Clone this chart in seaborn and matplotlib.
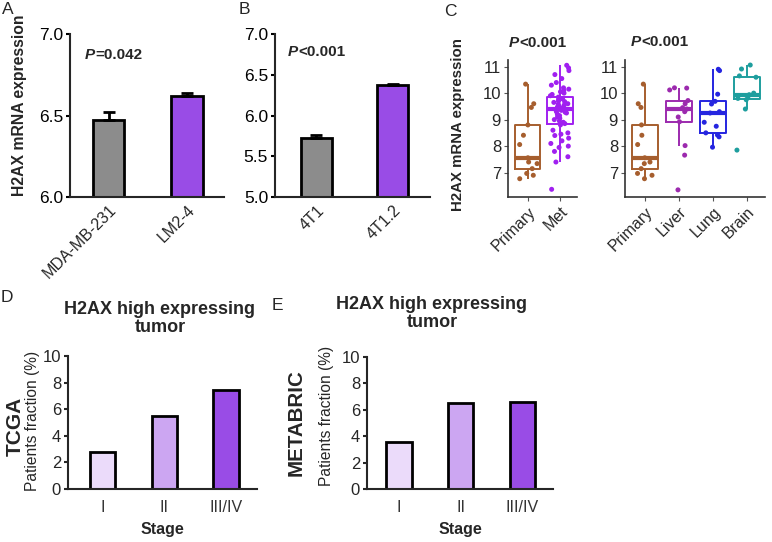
import numpy as np
import pandas as pd
import matplotlib
matplotlib.use('Agg')
import matplotlib.pyplot as plt
import seaborn as sns

# %%
# Values

# A: human cell lines
cells_a = ['MDA-MB-231', 'LM2-4']
expr_a = [6.47, 6.62]
err_a = [0.05, 0.015]

# B: mouse cell lines
cells_b = ['4T1', '4T1.2']
expr_b = [5.73, 6.37]
err_b = [0.03, 0.02]

# C: patient samples
primary_vals = [6.77, 6.9, 6.97, 7.15, 7.34, 7.4, 7.56, 8.06, 8.41, 8.8, 9.46, 9.6, 10.34]
met_vals = [6.37, 7.4, 7.6, 7.8, 7.95, 8.0, 8.1, 8.2, 8.3, 8.4, 8.45, 8.5, 8.6, 8.8,
            8.85, 8.9, 8.95, 9.0, 9.05, 9.1, 9.15, 9.2, 9.25, 9.28, 9.3, 9.35, 9.38, 9.4, 9.42,
            9.45, 9.48, 9.5, 9.55, 9.58, 9.6, 9.65, 9.68, 9.7, 9.75, 9.78, 9.8, 9.85, 9.9, 9.95,
            10.0, 10.05, 10.1, 10.15, 10.2, 10.3, 10.4, 10.55, 10.7, 10.85, 10.95, 11.05]
liver_vals = [6.35, 7.66, 8.02, 8.92, 9.1, 9.3, 9.4, 9.45, 9.6, 9.72, 10.12, 10.19, 10.2]
lung_vals = [7.96, 8.35, 8.42, 8.5, 8.75, 8.9, 9.25, 9.3, 9.59, 9.69, 9.96, 10.85, 10.9]
brain_vals = [7.85, 9.4, 9.75, 9.8, 9.85, 9.94, 10.0, 10.6, 10.65, 10.91, 11.06]

# D / E: fraction of H2AX-high tumours by stage
stages = ['I', 'II', 'III/IV']
tcga_frac = [2.78, 5.51, 7.42]
metabric_frac = [3.54, 6.49, 6.61]

# %%
sns.set_style('ticks')
plt.rcParams['font.family'] = ['Liberation Sans', 'DejaVu Sans']
plt.rcParams['axes.linewidth'] = 1.5

W, H = 772, 542
fig = plt.figure(figsize=(W / 100, H / 100), dpi=100)


def px_axes(x0, x1, y0, y1):
    return fig.add_axes([x0 / W, 1 - y1 / H, (x1 - x0) / W, (y1 - y0) / H])


def fig_text(x, y, s, **kw):
    fig.text(x / W, 1 - y / H, s, **kw)


def p_label(x, y, rest):
    # italic bold "P" followed by the bold value
    fig_text(x, y, 'P', fontsize=11, fontweight='bold', fontstyle='italic', ha='right', va='center')
    fig_text(x, y, rest, fontsize=11, fontweight='bold', ha='left', va='center')


def bar_panel(ax, cats, vals, errs, colors, ylim, yticks, xlim):
    sns.barplot(x=cats, y=vals, hue=cats, palette=colors, legend=False, width=0.4,
                edgecolor='black', linewidth=2, ax=ax)
    ax.errorbar(range(len(cats)), vals, yerr=[np.zeros(len(errs)), errs], fmt='none',
                ecolor='black', elinewidth=2, capsize=4.5, capthick=2)
    ax.set_ylim(*ylim)
    ax.set_xlim(*xlim)
    ax.set_yticks(yticks)
    ax.set_yticklabels([f'{t:.1f}' for t in yticks])
    ax.set_xlabel('')
    ax.set_ylabel('')
    ax.tick_params(axis='y', length=3, width=1.5, labelsize=12.5, colors='black', pad=2)
    ax.tick_params(axis='x', length=0, labelsize=11.5, pad=4)
    plt.setp(ax.get_xticklabels(), rotation=45, ha='right', rotation_mode='anchor')
    sns.despine(ax=ax)


# %%
# Panel A
ax_a = px_axes(70, 224, 34, 197)
bar_panel(ax_a, cells_a, expr_a, err_a, ['#8C8C8C', '#9933FF'],
          (6.0, 7.0), [6.0, 6.5, 7.0], (-0.49, 1.47))
fig_text(20, 105, 'H2AX mRNA expression', rotation=90, fontsize=11.3, fontweight='bold',
         ha='center', va='center')
p_label(95, 55, '=0.042')

# Panel B
ax_b = px_axes(275, 430, 34, 197)
bar_panel(ax_b, cells_b, expr_b, err_b, ['#8C8C8C', '#9933FF'],
          (5.0, 7.0), [5.0, 5.5, 6.0, 6.5, 7.0], (-0.54, 1.49))
p_label(298, 52, '<0.001')

# %%
# Panel C
np.random.seed(7)


def box_panel(ax, groups, colors, xlim):
    df = pd.DataFrame({
        'group': [g for g, v in groups for _ in v],
        'expr': [x for _, v in groups for x in v],
    })
    order = [g for g, _ in groups]
    pal = dict(zip(order, colors))
    sns.boxplot(data=df, x='group', y='expr', hue='group', order=order, palette=pal,
                fill=False, width=0.78, linewidth=1.4, showfliers=False, showcaps=False,
                medianprops={'linewidth': 3}, legend=False, ax=ax)
    sns.stripplot(data=df, x='group', y='expr', hue='group', order=order, palette=pal,
                  jitter=0.3, size=3.6, legend=False, ax=ax)
    ax.set_ylim(6.08, 11.25)
    ax.set_xlim(*xlim)
    ax.set_yticks([7, 8, 9, 10, 11])
    ax.set_xlabel('')
    ax.set_ylabel('')
    for s in ['left', 'bottom']:
        ax.spines[s].set_color('#333333')
        ax.spines[s].set_linewidth(1.2)
    ax.tick_params(axis='both', length=3, width=0.8, color='#555555', labelsize=12, pad=2)
    ax.tick_params(axis='x', labelsize=11.5)
    plt.setp(ax.get_xticklabels(), rotation=45, ha='right', rotation_mode='anchor')
    sns.despine(ax=ax)


brown = '#A65E2E'
ax_c1 = px_axes(508, 577, 60, 197)
box_panel(ax_c1, [('Primary', primary_vals), ('Met', met_vals)], [brown, '#A020F0'],
          (-0.62, 1.53))
ax_c2 = px_axes(625, 765, 60, 197)
box_panel(ax_c2, [('Primary', primary_vals), ('Liver', liver_vals), ('Lung', lung_vals),
                  ('Brain', brain_vals)],
          [brown, '#9C2AAE', '#2525E0', '#1E9E9E'], (-0.59, 3.53))
fig_text(458, 125, 'H2AX mRNA expression', rotation=90, fontsize=10.8, fontweight='bold',
         ha='center', va='center')
p_label(519, 43, '<0.001')
p_label(641, 42, '<0.001')

# %%
# Panels D and E
stage_colors = ['#EBD6FF', '#CC99FF', '#9933FF']


def stage_panel(ax, vals, xlim):
    sns.barplot(x=stages, y=vals, hue=stages, palette=stage_colors, legend=False, width=0.41,
                edgecolor='black', linewidth=2, ax=ax)
    ax.set_ylim(0, 10)
    ax.set_xlim(*xlim)
    ax.set_yticks([0, 2, 4, 6, 8, 10])
    ax.set_ylabel('')
    ax.set_xlabel('Stage', fontsize=11.5, fontweight='bold', labelpad=5)
    ax.tick_params(axis='y', length=3, width=1.5, labelsize=12, pad=2)
    ax.tick_params(axis='x', length=0, labelsize=11.5, pad=8, colors='#333333')
    sns.despine(ax=ax)


ax_d = px_axes(68, 257, 356, 489)
stage_panel(ax_d, tcga_frac, (-0.56, 2.5))
fig_text(160, 301, 'H2AX high expressing\ntumor', fontsize=13, fontweight='bold',
         ha='center', va='top', linespacing=1.05)
fig_text(15, 426, 'TCGA', rotation=90, fontsize=15, fontweight='bold', ha='center', va='center')
fig_text(33, 421, 'Patients fraction (%)', rotation=90, fontsize=11.2, ha='center', va='center')

ax_e = px_axes(367, 553, 357, 489)
stage_panel(ax_e, metabric_frac, (-0.52, 2.5))
fig_text(432, 296, 'H2AX high expressing\ntumor', fontsize=13, fontweight='bold',
         ha='center', va='top', linespacing=1.05)
fig_text(296, 423, 'METABRIC', rotation=90, fontsize=14.8, fontweight='bold', ha='center', va='center')
fig_text(326, 416, 'Patients fraction (%)', rotation=90, fontsize=11.2, ha='center', va='center')

# %%
# Panel letters
for letter, x, y in [('A', 2, 10), ('B', 239, 10), ('C', 444, 12), ('D', 1, 297), ('E', 272, 306)]:
    fig_text(x, y, letter, fontsize=12.5, ha='left', va='center')

fig.savefig('out.png', dpi=100)
